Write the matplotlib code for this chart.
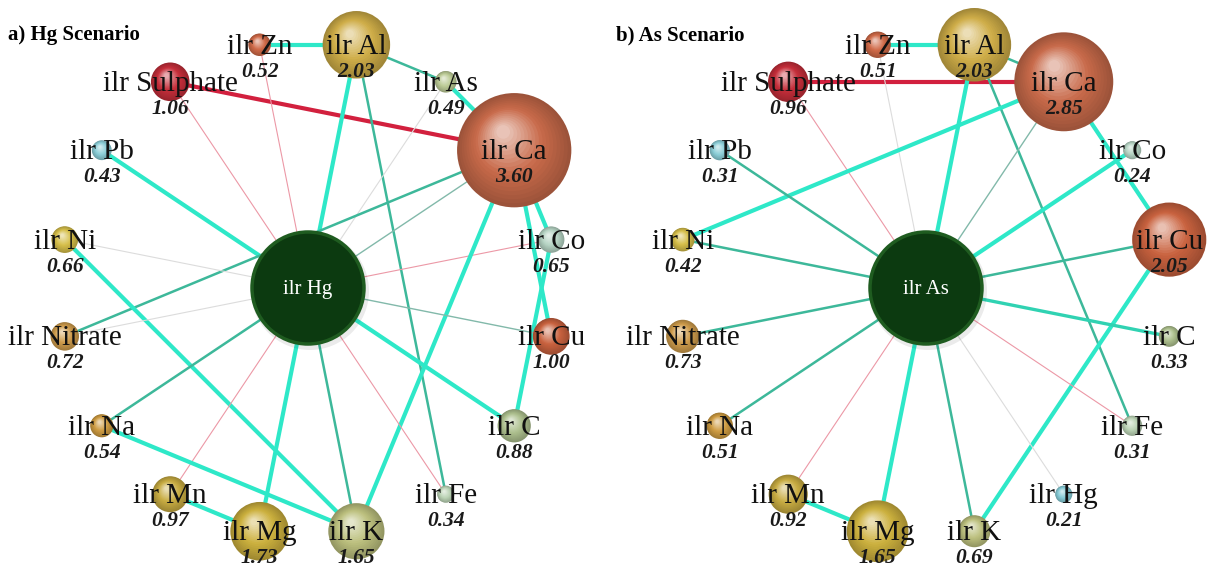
import numpy as np
import matplotlib
matplotlib.use("Agg")
import matplotlib.pyplot as plt
import matplotlib.colors as mcolors
from matplotlib.patches import Circle

# Node data (peripheral nodes in clockwise order starting near the top)
nodes_a = ["Zn", "Al", "As", "Ca", "Co", "Cu", "C", "Fe", "K", "Mg", "Mn", "Na", "Nitrate", "Ni", "Pb", "Sulphate"]
values_a = [0.52, 2.03, 0.49, 3.60, 0.65, 1.00, 0.88, 0.34, 1.65, 1.73, 0.97, 0.54, 0.72, 0.66, 0.43, 1.06]
center_a = "Hg"

nodes_b = ["Zn", "Al", "Ca", "Co", "Cu", "C", "Fe", "Hg", "K", "Mg", "Mn", "Na", "Nitrate", "Ni", "Pb", "Sulphate"]
values_b = [0.51, 2.03, 2.85, 0.24, 2.05, 0.33, 0.31, 0.21, 0.69, 1.65, 0.92, 0.51, 0.73, 0.42, 0.31, 0.96]
center_b = "As"

# Edges: (node, node, estimated signed strength)
edges_a = [
    ("Zn", "Al", 0.8), ("Al", "As", 0.5), ("As", "Ca", 0.8), ("Sulphate", "Ca", -0.8),
    ("Sulphate", "Hg", -0.3), ("Zn", "Hg", -0.3), ("Al", "Hg", 0.8), ("Al", "Fe", 0.5),
    ("As", "Hg", 0.1), ("Pb", "Hg", 0.8), ("Nitrate", "Ca", 0.5), ("Ca", "Hg", 0.3),
    ("Ni", "Hg", 0.1), ("Ni", "K", 0.8), ("Co", "Hg", -0.3), ("Ca", "Co", 0.8),
    ("Ca", "Cu", 0.8), ("Co", "C", 0.8), ("Ca", "K", 0.8), ("Cu", "Hg", 0.3),
    ("C", "Hg", 0.8), ("Fe", "Hg", -0.3), ("K", "Hg", 0.5), ("Mg", "Hg", 0.8),
    ("Mn", "Hg", -0.3), ("Na", "Hg", 0.5), ("Nitrate", "Hg", 0.1), ("Na", "K", 0.8),
    ("Mn", "Mg", 0.8),
]
edges_b = [
    ("Zn", "Al", 0.8), ("Al", "Ca", 0.5), ("Sulphate", "Ca", -0.8), ("Sulphate", "As", -0.3),
    ("Zn", "As", 0.1), ("Al", "As", 0.8), ("Al", "Fe", 0.5), ("Ni", "Ca", 0.8),
    ("Ca", "As", 0.3), ("Ca", "Cu", 0.8), ("Co", "As", 0.8), ("Cu", "As", 0.5),
    ("Cu", "K", 0.8), ("Pb", "As", 0.5), ("Ni", "As", 0.5), ("Nitrate", "As", 0.5),
    ("Na", "As", 0.5), ("Mn", "As", -0.3), ("Mg", "As", 0.8), ("K", "As", 0.5),
    ("Hg", "As", 0.1), ("Fe", "As", -0.3), ("C", "As", 0.65), ("Mn", "Mg", 0.8),
]

node_colors = {
    "Zn": "#d06a48", "Al": "#cfad48", "As": "#bccb96", "Ca": "#c86a4a", "Co": "#b6d4c4",
    "Cu": "#c9623f", "C": "#adc08e", "Fe": "#bcd4b6", "K": "#bcc07e", "Mg": "#ccb03e",
    "Mn": "#c8ac42", "Na": "#cf9c42", "Nitrate": "#cf9c4c", "Ni": "#d6bf4a", "Pb": "#8ccfd8",
    "Sulphate": "#c52e3a", "Hg": "#86cbd6",
}

SERIF = "Liberation Serif"


def edge_style(w):
    if w <= -0.6:
        return "#d2203e", 3.0
    if w < -0.15:
        return "#ec98a6", 0.8
    if w < 0.2:
        return "#dcdcdc", 0.8
    if w < 0.4:
        return "#82b9aa", 1.0
    if w < 0.6:
        return "#3db89a", 1.8
    if w < 0.75:
        return "#30d2b2", 2.4
    return "#2ee8c8", 3.0


def draw_sphere(ax, x, y, r, color):
    base = np.array(mcolors.to_rgb(color))
    n = 18
    for i in range(n):
        t = i / (n - 1)
        rr = r * (1 - 0.88 * t)
        off = 0.32 * r * t
        if t < 0.45:
            c = base * (0.78 + 0.22 * t / 0.45)
        else:
            c = base + (1 - base) * 0.6 * (t - 0.45) / 0.55
        ax.add_patch(Circle((x - off * 0.6, y - off), rr, color=np.clip(c, 0, 1), lw=0, zorder=3))


def draw_panel(ax, nodes, values, center, edges, cx, cy, R, r0, k, title, tx):
    # circular layout, equal angular spacing, clockwise from top
    n = len(nodes)
    pos = {center: (cx, cy)}
    for i, name in enumerate(nodes):
        ang = np.radians(-11.25 + 360.0 / n * i)
        pos[name] = (cx + R * np.sin(ang), cy - R * np.cos(ang))

    for a, b, w in edges:
        col, lw = edge_style(w)
        (x1, y1), (x2, y2) = pos[a], pos[b]
        ax.plot([x1, x2], [y1, y2], color=col, lw=lw, solid_capstyle="round", zorder=1)

    # center node
    ax.add_patch(Circle((cx + 2, cy + 3), 59, color="#000000", alpha=0.08, lw=0, zorder=2))
    ax.add_patch(Circle((cx, cy), 56, facecolor="#0c3a10", edgecolor="#1f5c20", lw=2.5, zorder=3))
    ax.text(cx, cy + 6, "ilr " + center, color="white", fontsize=15, family=SERIF,
            ha="center", va="baseline", zorder=10)

    for name, v in zip(nodes, values):
        x, y = pos[name]
        draw_sphere(ax, x, y, r0 + k * v, node_colors[name])
        ax.text(x, y + 9, "ilr " + name, fontsize=21, family=SERIF, color="#111111",
                ha="center", va="baseline", zorder=10)
        ax.text(x, y + 32, f"{v:.2f}", fontsize=15.5, family=SERIF, fontweight="bold",
                fontstyle="italic", color="#1a1a1a", ha="center", va="baseline", zorder=10)

    ax.text(tx, 40, title, fontsize=15, family=SERIF, fontweight="bold",
            ha="left", va="baseline", zorder=10)


fig = plt.figure(figsize=(12.09, 5.70), dpi=100)
ax = fig.add_axes([0, 0, 1, 1])
ax.set_xlim(0, 1209)
ax.set_ylim(570, 0)
ax.axis("off")

draw_panel(ax, nodes_a, values_a, center_a, edges_a, 308, 288, 248, 3.5, 14.9, "a) Hg Scenario", 8)
draw_panel(ax, nodes_b, values_b, center_b, edges_b, 926, 288, 248, 5.3, 15.5, "b) As Scenario", 616)

fig.savefig("out.png", dpi=100)
